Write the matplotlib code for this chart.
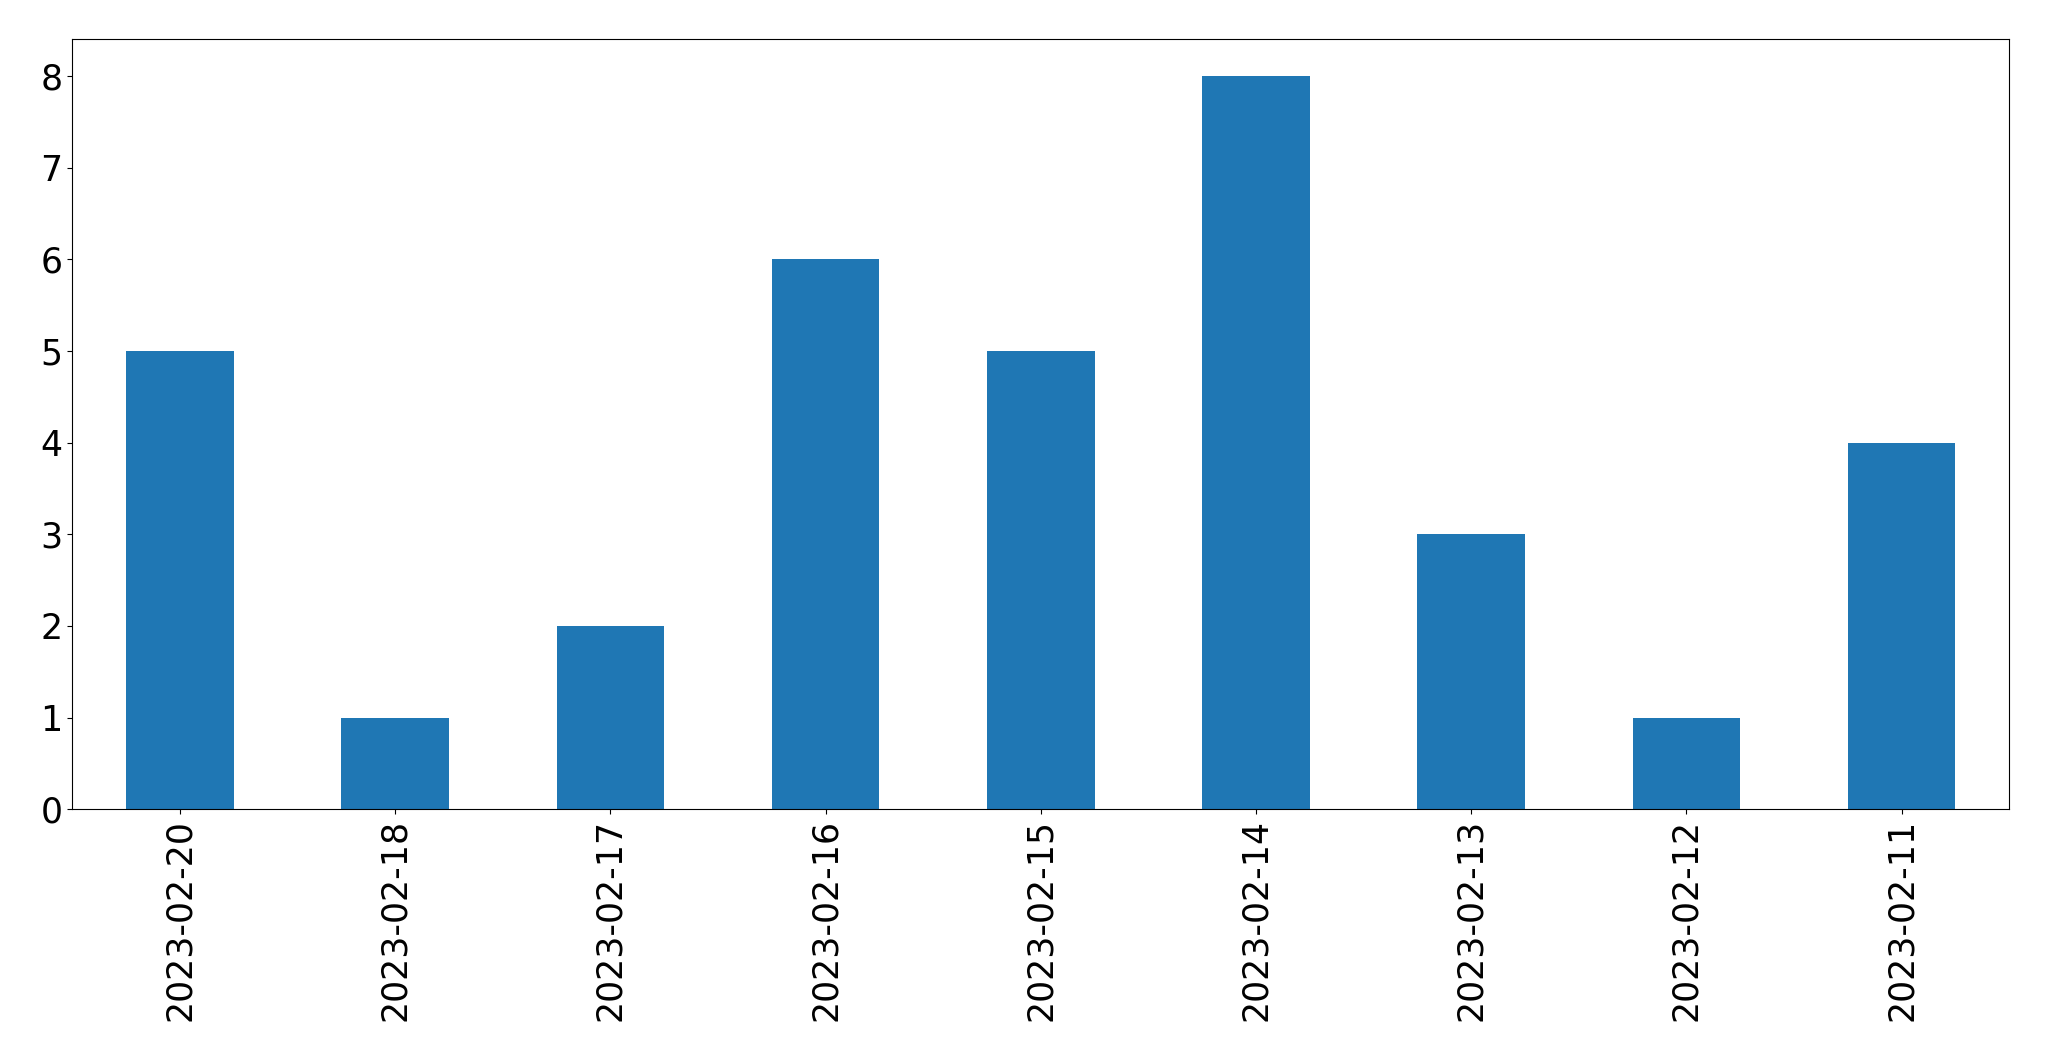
import matplotlib
matplotlib.use("Agg")
import matplotlib.pyplot as plt

dates = ["2023-02-20", "2023-02-18", "2023-02-17", "2023-02-16", "2023-02-15",
         "2023-02-14", "2023-02-13", "2023-02-12", "2023-02-11"]
counts = [5, 1, 2, 6, 5, 8, 3, 1, 4]

fig, ax = plt.subplots(figsize=(20.49, 10.61), dpi=100)
fig.subplots_adjust(left=0.0353, right=0.9806, top=0.963, bottom=0.2372)

x = range(len(dates))
ax.bar(x, counts, width=0.5, color="#1f77b4")
ax.set_xlim(-0.5, len(dates) - 0.5)
ax.set_ylim(0, max(counts) * 1.05)
ax.set_xticks(list(x))
ax.set_xticklabels(dates, rotation=90)
ax.tick_params(labelsize=25)

fig.savefig("out.png", dpi=100)
